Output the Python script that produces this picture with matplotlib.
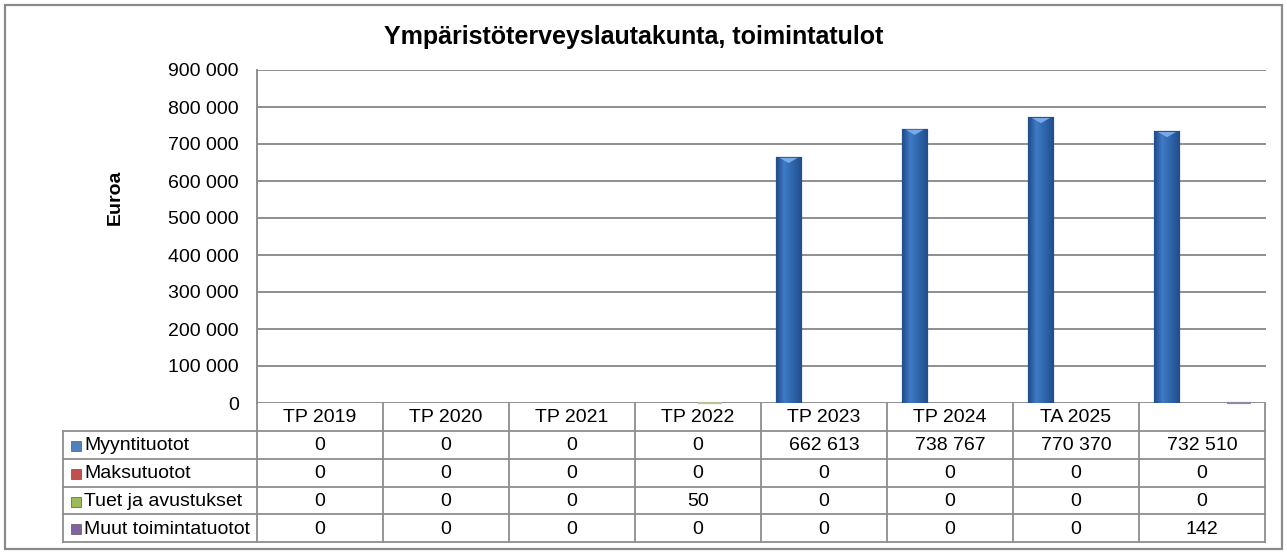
import matplotlib
matplotlib.use("Agg")
import matplotlib.pyplot as plt
import numpy as np
from matplotlib.patches import Rectangle, Polygon
from matplotlib.colors import LinearSegmentedColormap

plt.rcParams["font.family"] = ["Liberation Sans", "DejaVu Sans"]

# ---- data ----
categories = ["TP 2019", "TP 2020", "TP 2021", "TP 2022", "TP 2023", "TP 2024", "TA 2025", ""]
series_names = ["Myyntituotot", "Maksutuotot", "Tuet ja avustukset", "Muut toimintatuotot"]
myyntituotot = [0, 0, 0, 0, 662613, 738767, 770370, 732510]
maksutuotot = [0, 0, 0, 0, 0, 0, 0, 0]
tuet = [0, 0, 0, 50, 0, 0, 0, 0]
muut = [0, 0, 0, 0, 0, 0, 0, 142]
yticks = [0, 100000, 200000, 300000, 400000, 500000, 600000, 700000, 800000, 900000]
title = "Ympäristöterveyslautakunta, toimintatulot"
ylabel = "Euroa"

series = [myyntituotot, maksutuotot, tuet, muut]
# (dark edge, light centre, mid, legend colour)
colors = [("#22508e", "#3f7bc5", "#2f66ad", "#4f81bd"),
          ("#7a2422", "#d05a56", "#b44744", "#c0504d"),
          ("#b8c49a", "#c9d8a6", "#bccb98", "#9bbb59"),
          ("#9088a8", "#a8a0bc", "#9890b0", "#8064a2")]

GRID = "#8e8e8e"
FS = 14
W, H = 1287, 554
fig = plt.figure(figsize=(W / 100, H / 100), dpi=100)

# layout in pixels
px0, px1, py_top, py0 = 257, 1266, 70, 403
ax = fig.add_axes([px0 / W, 1 - py0 / H, (px1 - px0) / W, (py0 - py_top) / H])
ax.set_xlim(-0.5, len(categories) - 0.5)
ax.set_ylim(0, 900000)
ax.set_yticks(yticks)
ax.set_yticklabels([f"{v:,}".replace(",", " ") for v in yticks], fontsize=FS)
ax.tick_params(axis="y", length=0, pad=13)
ax.set_xticks([])
ax.yaxis.grid(True, color=GRID, lw=1.4)
ax.set_axisbelow(True)
for s in ["top", "right", "bottom"]:
    ax.spines[s].set_visible(False)
ax.spines["left"].set_color(GRID)
ax.spines["left"].set_linewidth(1.4)
ax.set_ylabel(ylabel, fontsize=14, fontweight="bold")
ax.yaxis.set_label_coords((124 - px0) / (px1 - px0), (py0 - 197) / (py0 - py_top))

bw = 0.19
x = np.arange(len(categories))
grad = np.linspace(0, 1, 64)
for k, (vals, (dark, light, mid, _)) in enumerate(zip(series, colors)):
    cmap = LinearSegmentedColormap.from_list(
        "b%d" % k, [(0, dark), (0.3, light), (0.65, mid), (1, dark)])
    bars = ax.bar(x + (k - 1.5) * bw, vals, bw, color=mid, zorder=3,
                  edgecolor=[dark if v else "none" for v in vals], lw=1.6)
    for b, v in zip(bars, vals):
        if v < 50000:
            b.set_clip_on(False)  # keep tiny values visible as a hairline
            continue
        bx, by, bwid, bh = b.get_x(), b.get_y(), b.get_width(), b.get_height()
        im = ax.imshow(grad[None, :], cmap=cmap, aspect="auto", zorder=3.5,
                       extent=[bx, bx + bwid, by, by + bh])
        im.set_clip_path(b)
        tri = Polygon([[bx + bwid * 0.12, by + bh], [bx + bwid * 0.88, by + bh],
                       [bx + bwid * 0.5, by + bh - 14000]],
                      closed=True, color="#78aaea", zorder=4, lw=0)
        ax.add_patch(tri)
ax.set_xlim(-0.5, len(categories) - 0.5)
ax.set_ylim(0, 900000)

# ---- overlay canvas: border, title, data table ----
cv = fig.add_axes([0, 0, 1, 1], zorder=-1)
cv.set_xlim(0, W)
cv.set_ylim(H, 0)
cv.axis("off")
cv.add_patch(Rectangle((5, 5), 1277, 544, fill=False, ec="#8a8a8a", lw=1.6))
cv.text(634, 37, title, fontsize=18, fontweight="bold", ha="center", va="center")

colw = (px1 - 1 - px0) / len(categories)
lab_x0 = 63
rows_y = [403, 431, 459, 487, 514, 542]
tl = dict(color=GRID, lw=1.3)
# header row
for i, c in enumerate(categories):
    cv.text(px0 + (i + 0.5) * colw, (rows_y[0] + rows_y[1]) / 2 + 1, c,
            fontsize=FS, ha="center", va="center")
for i in range(len(categories) + 1):
    cv.plot([px0 + i * colw] * 2, [rows_y[0], rows_y[-1]], **tl)
cv.plot([lab_x0, lab_x0], [rows_y[1], rows_y[-1]], **tl)
for yy in rows_y[1:]:
    cv.plot([lab_x0, px1 - 1], [yy, yy], **tl)
# data rows
for r, (name, vals, (dark, light, mid, leg)) in enumerate(zip(series_names, series, colors)):
    yc = (rows_y[r + 1] + rows_y[r + 2]) / 2 + 1
    cv.add_patch(Rectangle((71, yc - 5), 10, 10, fc=leg, ec="#555555", lw=0.5))
    cv.text(84, yc, name, fontsize=FS, ha="left", va="center")
    for i, v in enumerate(vals):
        cv.text(px0 + (i + 0.5) * colw, yc, f"{v:,}".replace(",", " "),
                fontsize=FS, ha="center", va="center")

fig.savefig("out.png", dpi=100, facecolor="white")
